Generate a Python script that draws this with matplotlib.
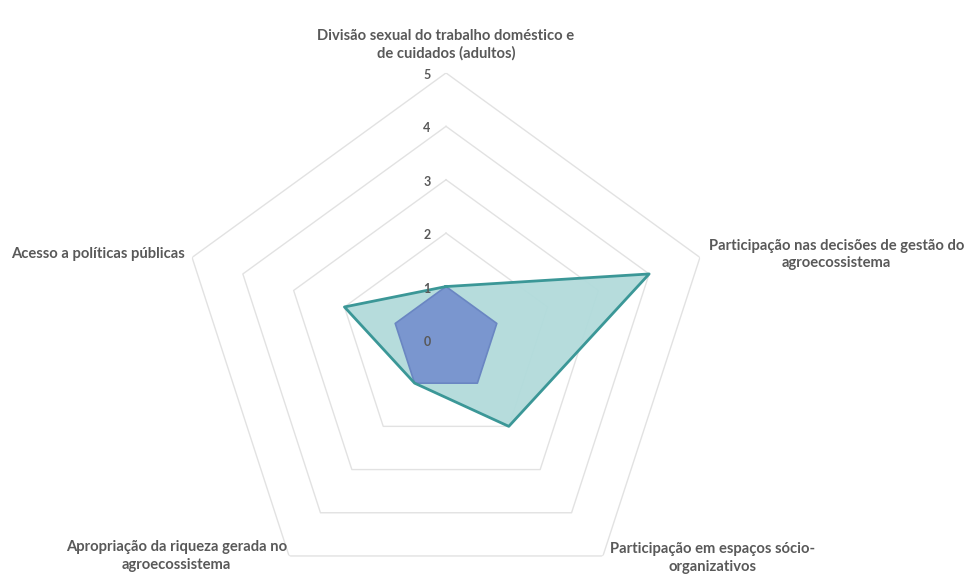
import numpy as np
import matplotlib.pyplot as plt

# =========================
# Dados
# =========================

categorias = [
    "Divisão sexual do trabalho doméstico e\nde cuidados (adultos)",
    "Participação nas decisões de gestão do\nagroecossistema",
    "Participação em espaços sócio-\norganizativos",
    "Apropriação da riqueza gerada no\nagroecossistema",
    "Acesso a políticas públicas",
]
serie_teal = [1, 4, 2, 1, 2]
serie_azul = [1, 1, 1, 1, 1]
niveis = [0, 1, 2, 3, 4, 5]

# =========================
# Figura
# =========================

plt.rcParams['font.family'] = ['Lato', 'DejaVu Sans']

fig = plt.figure(figsize=(9.68, 5.78), dpi=100)
ax = fig.add_axes([0.1849, -0.0501, 0.5517, 0.9239], projection='polar')
ax.set_theta_offset(np.pi / 2)
ax.set_theta_direction(-1)
ax.set_ylim(0, 5)
ax.grid(False)
ax.spines['polar'].set_visible(False)
ax.set_xticks([])
ax.set_yticks([])
ax.patch.set_alpha(0)

n = len(categorias)
ang = np.linspace(0, 2 * np.pi, n, endpoint=False)
ang_c = np.append(ang, ang[0])

# grade pentagonal
for v in niveis[1:]:
    ax.plot(ang_c, [v] * (n + 1), color='#e2e2e2', lw=1.0, zorder=1)

# series
t = np.append(serie_teal, serie_teal[0])
a = np.append(serie_azul, serie_azul[0])
ax.fill(ang_c, t, color='#b2dbdb', alpha=0.95, zorder=2, lw=0)
ax.fill(ang_c, a, color='#7a96cf', zorder=3, lw=0)
ax.plot(ang_c, a, color='#6a86c2', lw=1.2, zorder=4)
ax.plot(ang_c, t, color='#3b9797', lw=2.0, zorder=5)

# rótulos dos níveis
for v in niveis:
    ax.annotate(str(v), xy=(0, v), xytext=(-19, -2), textcoords='offset pixels',
                ha='center', va='center', fontsize=9, fontweight='bold',
                color='#595959', zorder=6)

# rótulos das categorias
cor_txt = '#595959'
offs = [(0, 12, 'center', 'bottom'),
        (9, 3, 'left', 'center'),
        (7, -2, 'left', 'center'),
        (-2, 0, 'right', 'center'),
        (-7, 3, 'right', 'center')]
for k in range(n):
    dx, dy, ha, va = offs[k]
    ax.annotate(categorias[k], xy=(ang[k], 5), xytext=(dx, dy),
                textcoords='offset pixels', ha=ha, va=va,
                multialignment='center', fontsize=10.6, fontweight='bold',
                color=cor_txt, annotation_clip=False, linespacing=1.3)

fig.savefig("out.png", dpi=100)
